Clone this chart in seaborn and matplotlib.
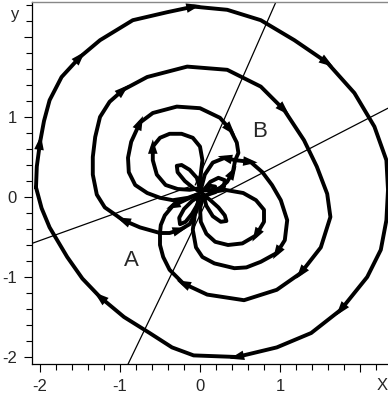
import numpy as np
import pandas as pd
import matplotlib
matplotlib.use("Agg")
import matplotlib.pyplot as plt
import seaborn as sns
from matplotlib.ticker import MultipleLocator, FuncFormatter

# traced trajectories (data units)
outer_x = [-2.05, -2.04, -2.00, -1.95, -1.88, -1.73, -1.50, -1.25, -0.84, -0.41, -0.08, 0.34, 0.76, 1.18, 1.59,
           1.93, 2.18, 2.33, 2.35, 2.33, 2.26, 2.09, 1.76, 1.39, 0.96, 0.46, -0.08, -0.35, -0.63, -0.95, -1.25,
           -1.47, -1.66, -1.88, -1.98, -2.05]
outer_y = [0.12, 0.38, 0.68, 0.95, 1.21, 1.50, 1.75, 1.96, 2.21, 2.31, 2.38, 2.34, 2.21, 1.96, 1.68,
           1.30, 0.88, 0.46, 0.09, -0.29, -0.66, -1.00, -1.41, -1.70, -1.88, -2.00, -1.98, -1.88, -1.70, -1.50, -1.25,
           -1.02, -0.75, -0.38, -0.14, 0.12]

loop2_x = [-0.50, -0.75, -0.96, -1.19, -1.29, -1.34, -1.34, -1.31, -1.25, -1.13, -0.96, -0.66, -0.16, 0.34,
           0.76, 1.05, 1.30, 1.46, 1.59, 1.63, 1.51, 1.26, 0.96, 0.55, 0.09, -0.21, -0.38, -0.46, -0.50, -0.50]
loop2_y = [-0.45, -0.38, -0.29, -0.13, 0.03, 0.28, 0.50, 0.75, 1.00, 1.19, 1.34, 1.50, 1.63, 1.59,
           1.38, 1.09, 0.71, 0.38, 0.04, -0.25, -0.63, -0.95, -1.16, -1.29, -1.22, -1.08, -0.91, -0.75, -0.60, -0.45]

loop3_x = [-0.01, -0.15, -0.34, -0.50, -0.66, -0.81, -0.89, -0.90, -0.86, -0.75, -0.59, -0.29, 0.00, 0.25,
           0.38, 0.46, 0.48, 0.44, 0.63, 0.78, 0.90, 1.01, 1.09, 1.06, 0.96, 0.76, 0.58, 0.43, 0.18, 0.03,
           -0.05, -0.09, -0.06, -0.01]
loop3_y = [0.04, -0.01, -0.04, -0.01, 0.05, 0.15, 0.31, 0.49, 0.69, 0.93, 1.05, 1.13, 1.11, 0.99,
           0.84, 0.68, 0.55, 0.46, 0.44, 0.31, 0.15, -0.04, -0.29, -0.54, -0.70, -0.81, -0.88, -0.89, -0.83, -0.75,
           -0.63, -0.41, -0.19, -0.01]

loop4_x = [0.00, -0.13, -0.28, -0.43, -0.54, -0.59, -0.59, -0.50, -0.38, -0.23, -0.09, 0.00, 0.03, 0.01, 0.00]
loop4_y = [0.11, 0.09, 0.10, 0.15, 0.28, 0.46, 0.63, 0.74, 0.79, 0.79, 0.74, 0.63, 0.46, 0.29, 0.11]

loop5_x = [0.04, 0.15, 0.31, 0.54, 0.70, 0.80, 0.80, 0.70, 0.53, 0.35, 0.19, 0.08, 0.01, 0.00, 0.04]
loop5_y = [0.00, 0.06, 0.09, 0.05, -0.04, -0.16, -0.31, -0.48, -0.58, -0.60, -0.56, -0.46, -0.31, -0.14, 0.00]

ja_top_x = [-0.04, -0.19, -0.34, -0.44, -0.49, -0.50]
ja_top_y = [0.03, -0.04, -0.11, -0.23, -0.35, -0.45]
ja_right_x = [-0.50, -0.38, -0.25, -0.13, -0.05, -0.01]
ja_right_y = [-0.45, -0.45, -0.41, -0.34, -0.19, -0.01]
jb_left_x = [0.44, 0.31, 0.16, 0.06, 0.01]
jb_left_y = [0.46, 0.49, 0.43, 0.28, 0.09]
jb_low_x = [0.04, 0.19, 0.34, 0.41, 0.44]
jb_low_y = [0.01, 0.06, 0.19, 0.31, 0.46]

# small petals at the origin
petal_ul_x = [0.01, -0.08, -0.19, -0.28, -0.29, -0.23, -0.13, -0.04, 0.01]
petal_ul_y = [0.06, 0.11, 0.20, 0.31, 0.39, 0.40, 0.34, 0.24, 0.06]
petal_lr_x = [0.04, 0.13, 0.23, 0.31, 0.33, 0.26, 0.16, 0.08, 0.04]
petal_lr_y = [0.03, -0.04, -0.13, -0.23, -0.30, -0.31, -0.24, -0.11, 0.03]
petal_ll_x = [-0.01, -0.10, -0.20, -0.26, -0.25, -0.18, -0.10, -0.03, -0.01]
petal_ll_y = [0.01, -0.05, -0.15, -0.26, -0.34, -0.31, -0.21, -0.09, 0.01]
petal_ur_x = [0.04, 0.13, 0.23, 0.31, 0.30, 0.19, 0.04]
petal_ur_y = [0.08, 0.19, 0.24, 0.21, 0.13, 0.09, 0.08]
petal_ur2_x = [0.05, 0.13, 0.19, 0.15, 0.05]
petal_ur2_y = [0.09, 0.14, 0.13, 0.08, 0.09]

# the two invariant lines (each drawn as two rays)
ray_x = {"left": [-2.10, -0.10], "right": [0.12, 2.35], "low": [-0.90, 0.06], "up": [-0.06, 0.95]}
ray_y = {"left": [-0.58, 0.14], "right": [-0.04, 1.11], "low": [-2.09, -0.10], "up": [0.15, 2.44]}

curves = {
    "outer": (outer_x, outer_y), "loop2": (loop2_x, loop2_y), "loop3": (loop3_x, loop3_y),
    "loop4": (loop4_x, loop4_y), "loop5": (loop5_x, loop5_y),
    "ja_top": (ja_top_x, ja_top_y), "ja_right": (ja_right_x, ja_right_y),
    "jb_left": (jb_left_x, jb_left_y), "jb_low": (jb_low_x, jb_low_y),
    "p1": (petal_ul_x, petal_ul_y), "p2": (petal_lr_x, petal_lr_y), "p3": (petal_ll_x, petal_ll_y),
    "p4": (petal_ur_x, petal_ur_y), "p5": (petal_ur2_x, petal_ur2_y),
}

# arrow heads: (curve, point index) - direction follows the traced order
arrows = [("outer", 2), ("outer", 6), ("outer", 10), ("outer", 14), ("outer", 22), ("outer", 25), ("outer", 30),
          ("loop2", 2), ("loop2", 10), ("loop2", 15), ("loop2", 21), ("loop2", 25),
          ("loop3", 9), ("loop3", 14), ("loop3", 18), ("loop3", 24),
          ("loop4", 6), ("loop5", 7),
          ("ja_top", 2), ("ja_right", 2), ("jb_left", 1), ("jb_low", 3)]

rows = []
for name, (xs, ys) in curves.items():
    for i, (a, b) in enumerate(zip(xs, ys)):
        rows.append({"curve": name, "order": i, "x": a, "y": b})
df = pd.DataFrame(rows)

ray_rows = []
for name in ray_x:
    for a, b in zip(ray_x[name], ray_y[name]):
        ray_rows.append({"ray": name, "x": a, "y": b})
rays = pd.DataFrame(ray_rows)

sns.set_style("ticks")
plt.rcParams["font.family"] = ["Liberation Sans", "DejaVu Sans"]
plt.rcParams["axes.unicode_minus"] = False

fig = plt.figure(figsize=(3.88, 3.95), dpi=100)
ax = fig.add_axes([32 / 388, 31 / 395, 356 / 388, 362 / 395])

sns.lineplot(data=rays, x="x", y="y", units="ray", estimator=None, sort=False,
             color="black", linewidth=0.9, legend=False, ax=ax)
sns.lineplot(data=df, x="x", y="y", units="curve", estimator=None, sort=False,
             color="black", linewidth=2.8, legend=False, ax=ax,
             solid_joinstyle="round", solid_capstyle="round")

# filled triangular heads
L, W = 0.18, 0.06
for name, i in arrows:
    xs, ys = curves[name]
    p = np.array([xs[i], ys[i]])
    d = p - np.array([xs[i - 1], ys[i - 1]])
    d = d / np.hypot(*d)
    n = np.array([-d[1], d[0]])
    tip = p + d * L / 2
    base = p - d * L / 2
    tri = np.array([tip, base + n * W, base - n * W])
    ax.fill(tri[:, 0], tri[:, 1], color="black", zorder=5, lw=0)

ax.text(-0.86, -0.79, "A", fontsize=16, ha="center", va="center")
ax.text(0.74, 0.82, "B", fontsize=16, ha="center", va="center")

ax.set_xlim(-2.1, 2.35)
ax.set_ylim(-2.0875, 2.4375)
ax.set_xlabel("")
ax.set_ylabel("")

ax.xaxis.set_major_locator(MultipleLocator(1))
ax.yaxis.set_major_locator(MultipleLocator(1))
ax.xaxis.set_minor_locator(MultipleLocator(0.2))
ax.yaxis.set_minor_locator(MultipleLocator(0.2))
fmt = FuncFormatter(lambda v, pos: "" if v > 1.5 else f"{v:.0f}")
ax.xaxis.set_major_formatter(fmt)
ax.yaxis.set_major_formatter(fmt)
ax.tick_params(which="major", direction="out", length=6, width=0.8, labelsize=12, pad=5, color="black")
ax.tick_params(which="minor", direction="out", length=4.5, width=0.8, color="black")

for s in ["left", "bottom"]:
    ax.spines[s].set_color("black")
    ax.spines[s].set_linewidth(0.9)
ax.spines["top"].set_color("#888888")
ax.spines["top"].set_linewidth(1.0)
ax.spines["right"].set_visible(False)

fig.text(382 / 388, 1 - 385 / 395, "X", fontsize=12, ha="center", va="center")
fig.text(15 / 388, 1 - 14 / 395, "y", fontsize=12, ha="center", va="center")

fig.savefig("out.png", dpi=100)
